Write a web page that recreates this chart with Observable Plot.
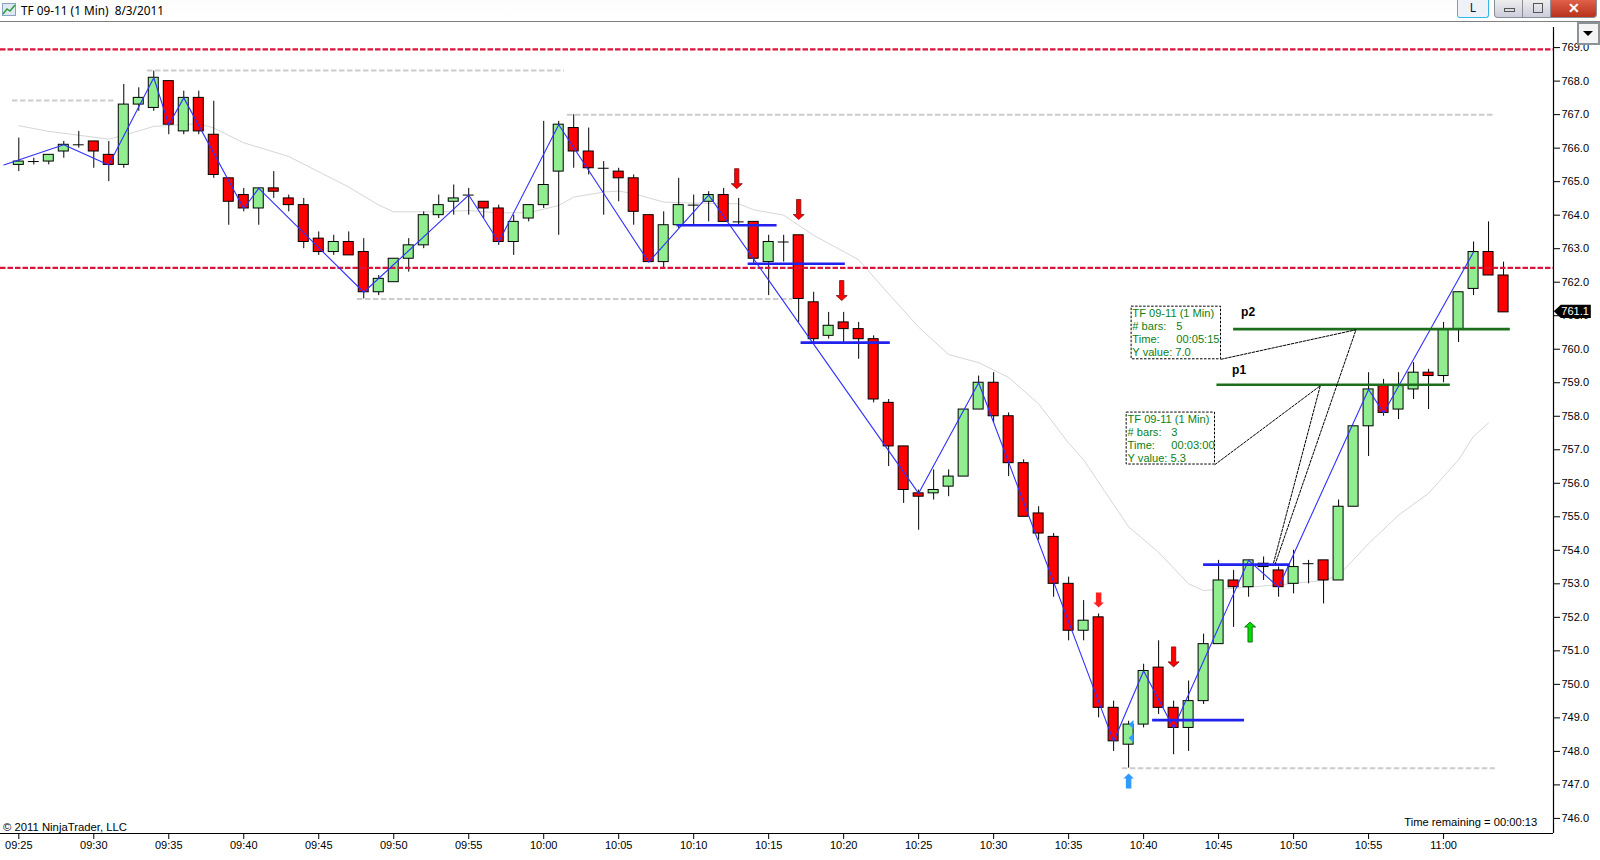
<!DOCTYPE html>
<html><head><meta charset="utf-8">
<script src="https://cdn.jsdelivr.net/npm/d3@7"></script>
<script src="https://cdn.jsdelivr.net/npm/@observablehq/plot@0.6"></script>
<style>
html,body{margin:0;padding:0;background:#fff;overflow:hidden}
#wrap{position:relative;width:1600px;height:860px;font-family:"Liberation Sans",Arial,sans-serif}
#wrap svg{display:block}
.hd{position:absolute;left:0;top:0;width:1600px;height:21px;background:linear-gradient(#fdfdfd,#fff);border-bottom:1px solid #808080;box-sizing:content-box}
.ttl{position:absolute;left:21px;top:2px;font:11.8px "Noto Sans",sans-serif;color:#000;white-space:pre;line-height:17px}
.btnL{position:absolute;left:1457px;top:0;width:32px;height:18px;background:#eef2f6;border:1px solid #35b8e8;border-top:none;box-sizing:border-box;text-align:center;font:12px "Noto Sans",sans-serif;color:#114;line-height:16px;border-radius:0 0 3px 3px}
.wbtn{position:absolute;top:0;height:18px;box-sizing:border-box;border:1px solid #8a8f96;border-top:none}
.drop{position:absolute;left:1577px;top:22px;width:23px;height:23px;background:#f4f4f4;border:2px solid #8b9298;box-sizing:border-box}
.drop:after{content:"";position:absolute;left:4px;top:7px;border-left:5px solid transparent;border-right:5px solid transparent;border-top:5px solid #000}
</style></head><body><div id="wrap"></div>
<script>
// Candles, one per minute starting at 09:25
const opens  = [765.5,765.6,765.6,765.9,766.1,766.2,765.8,765.5,767.3,767.2,768.0,766.5,767.5,766.4,765.1,764.6,764.2,764.8,764.5,764.3,763.3,762.9,763.2,762.9,761.7,762.0,762.7,763.1,764.0,764.4,764.6,764.4,764.2,763.2,763.9,764.3,765.3,766.6,765.9,765.4,765.3,765.1,764.0,762.6,763.7,764.3,764.4,764.6,763.8,763.8,762.6,763.2,763.4,761.4,760.4,760.8,760.6,760.3,758.4,757.1,755.7,755.7,755.9,756.2,758.2,759.0,758.0,756.6,755.1,754.4,753.0,751.6,752.0,749.3,748.2,748.8,750.5,749.3,748.7,749.5,751.2,753.1,752.9,753.6,753.4,753.0,753.6,753.7,753.1,755.3,757.7,758.9,758.2,758.8,759.3,759.2,760.6,761.8,762.9,762.2];
const closes = [765.6,765.6,765.8,766.1,766.1,765.9,765.5,767.3,767.5,768.1,766.7,767.5,766.5,765.2,764.4,764.2,764.8,764.7,764.3,763.2,762.9,763.2,762.8,761.7,762.1,762.7,763.1,764.0,764.3,764.5,764.6,764.2,763.2,763.8,764.3,764.9,766.7,765.9,765.4,765.4,765.1,764.1,762.6,763.7,764.3,764.3,764.6,763.8,763.8,762.7,763.2,763.2,761.5,760.3,760.7,760.6,760.3,758.5,757.1,755.8,755.6,755.8,756.2,758.2,759.0,758.0,756.6,755.0,754.5,753.0,751.6,751.9,749.3,748.3,748.8,750.4,749.3,748.7,749.5,751.2,753.1,752.9,753.7,753.5,752.9,753.5,753.6,753.1,755.3,757.7,758.8,758.1,758.9,759.3,759.2,760.6,761.7,762.9,762.2,761.1];
const highs  = [766.3,765.7,765.8,766.2,766.5,766.2,766.2,767.9,767.8,768.3,768.0,767.7,767.7,767.4,765.1,764.8,764.8,765.3,764.6,764.5,763.5,763.4,763.5,763.3,762.2,762.7,763.3,764.1,764.6,764.9,764.8,764.4,764.3,764.0,764.3,766.8,766.8,767.0,766.6,765.6,765.4,765.2,764.0,764.1,765.1,764.6,764.7,764.8,764.5,763.8,763.4,763.4,763.4,761.7,761.1,761.1,760.8,760.4,758.5,757.1,755.8,756.4,756.4,758.2,759.2,759.3,758.1,756.7,755.3,754.5,753.2,752.5,752.1,749.5,748.9,750.6,751.3,749.5,750.1,751.5,753.7,753.4,753.7,753.8,753.5,754.0,753.7,753.7,755.5,757.7,759.3,759.1,759.3,759.6,759.4,760.8,761.7,763.2,763.8,762.6];
const lows   = [765.3,765.5,765.5,765.7,766.0,765.4,765.0,765.4,767.1,767.1,766.4,766.4,766.4,765.1,763.7,764.1,763.7,764.5,764.1,763.0,762.8,762.8,762.8,761.5,761.6,762.0,762.3,763.0,763.9,764.0,764.0,763.9,763.1,762.8,763.8,764.2,763.4,765.4,765.2,764.0,764.4,763.7,762.6,762.4,763.6,763.7,763.8,763.8,763.7,762.5,761.6,762.6,760.8,760.2,760.3,760.2,759.7,758.4,756.5,755.4,754.6,755.5,755.6,756.2,758.2,757.8,756.2,755.0,754.3,752.6,751.3,751.3,749.0,748.0,747.5,748.7,749.1,747.9,748.0,749.4,751.2,751.7,752.6,753.1,752.6,752.7,753.0,752.4,753.1,755.3,756.8,758.0,757.9,758.5,758.2,759.0,760.2,761.6,762.2,761.1];

// Zigzag indicator (bar number, price)
const zigBars   = [-1,3,6,9,10,11,15,16,23,30,32,36,42,46,60,64,73,75,77,82,84,90,91,97];
const zigValues = [765.5,766.1,765.5,768.1,766.7,767.5,764.2,764.8,761.7,764.6,763.2,766.7,762.6,764.6,755.7,759.0,748.3,750.4,748.7,753.7,752.9,758.8,758.1,762.9];

// Moving average (bar number, price)
const smaBars   = [0,2,6,7,9,12,13,15,18,22,24,25,28,30,32,34,36,37,39,40,41,43,45,48,49,51,53,56,58,60,62,64,66,68,70,71,74,76,78,79,84,87,88,90,92,94,96,97,98];
const smaValues = [766.67,766.5,766.27,766.38,766.65,766.73,766.6,766.16,765.75,764.84,764.3,764.1,764.1,764.14,764.07,764.07,764.29,764.54,764.69,764.72,764.64,764.39,764.36,764.34,764.16,764.0,763.4,762.67,761.65,760.66,759.84,759.6,759.16,758.37,757.2,756.7,754.7,753.94,753.0,752.8,752.97,753.1,753.25,754.2,755.05,755.7,756.7,757.4,757.8];

// Horizontal drawings (start minute, end minute, price)
const redLevels   = [768.95,762.43];
const greyStart   = [-0.42,8.58,36.58,22.58,73.58];
const greyEnd     = [6.45,36.38,98.45,51.58,98.45];
const greyLevels  = [767.42,768.32,767.0,761.5,747.5];
const blueStart   = [43.89,48.63,52.16,75.6,79];
const blueEnd     = [50.56,55.11,58.11,81.73,84.78];
const blueLevels  = [763.7,762.55,760.2,748.93,753.57];
const greenStart  = [79.89,81];
const greenEnd    = [95.45,99.45];
const greenLevels = [758.94,760.6];

// Arrows (bar number, price)
const downBars  = [47.87,52,54.87,77];   const downValues  = [765.09,764.17,761.75,750.82];
const stubBars  = [72];                  const stubValues  = [752.52];
const upBars    = [82.1];                const upValues    = [751.56];
const blueBars  = [74];                  const blueValues  = [747.12];
const triBars   = [74.16,74.16];         const triValues   = [748.8,748.4];

// Callouts
const calloutLines = ["TF 09-11 (1 Min)","# bars:","Time:","Y value: 7.0","TF 09-11 (1 Min)","# bars:","Time:","Y value: 5.3"];
const calloutValueText = ["5","00:05:15","3","00:03:00"];

const xTickLabels = ["09:25","09:30","09:35","09:40","09:45","09:50","09:55","10:00","10:05","10:10","10:15","10:20","10:25","10:30","10:35","10:40","10:45","10:50","10:55","11:00"];
const yTickValues = d3.range(746,770);

const t = m => new Date(Date.UTC(2011,7,3,9,25) + m*60000);
const hw = 1/3;
const candles = opens.map((o,i)=>({i,o,c:closes[i],h:highs[i],l:lows[i]}));
const xTicks = xTickLabels.map(s=>{const [h,m]=s.split(":").map(Number);return new Date(Date.UTC(2011,7,3,h,m));});
const zig = zigBars.map((b,i)=>({x:t(b),y:zigValues[i]}));
const sma = smaBars.map((b,i)=>({x:t(b),y:smaValues[i]}));
const seg = (a,b,c)=>a.map((s,i)=>({x1:t(s),x2:t(b[i]),y:c[i]}));
const pts = (a,b)=>a.map((s,i)=>({x:t(s),y:b[i]}));

const arrow = (sw,hw2,hh,total)=>({draw(c){
  const top=-total/2, bot=total/2, nk=bot-hh;
  c.moveTo(-sw/2,top);c.lineTo(sw/2,top);c.lineTo(sw/2,nk);c.lineTo(hw2/2,nk);c.lineTo(0,bot);c.lineTo(-hw2/2,nk);c.lineTo(-sw/2,nk);c.closePath();
}});
const flipped = s=>({draw(c){
  const m={moveTo:(x,y)=>c.moveTo(x,-y),lineTo:(x,y)=>c.lineTo(x,-y),closePath:()=>c.closePath()};
  s.draw(m);
}});
const tri = {draw(c){c.moveTo(2.5,-4.5);c.lineTo(2.5,4.5);c.lineTo(-2.5,0);c.closePath();}};
const tag = {draw(c){c.moveTo(0,0);c.lineTo(7,-6.7);c.lineTo(37,-6.7);c.lineTo(37,6.7);c.lineTo(7,6.7);c.closePath();}};

const boxes = [{x1:74.2,x2:80.16,y1:759.70,y2:761.27},{x1:73.87,x2:79.76,y1:756.56,y2:758.11}].map(b=>({...b,x1:t(b.x1),x2:t(b.x2)}));
const lead1 = pts([80.16,89.16,83.78],[759.70,760.58,753.6]);
const lead2 = pts([79.76,86.78,83.65],[756.56,758.91,753.6]);
const calloutX = [74.25,74.25,74.25,74.25,73.93,73.93,73.93,73.93];
const calloutY = [761.07,760.68,760.29,759.90,757.9,757.52,757.13,756.74];
const calloutText = calloutLines.map((s,i)=>({s,x:t(calloutX[i]),y:calloutY[i]}));
const calloutVals = [{x:77.18,y:760.68},{x:77.18,y:760.29},{x:76.85,y:757.52},{x:76.85,y:757.13}].map((d,i)=>({s:calloutValueText[i],x:t(d.x),y:d.y}));

const font = "Liberation Sans, Arial, sans-serif";
const chart = Plot.plot({
  width:1600,height:860,marginLeft:0,marginRight:47,marginTop:27,marginBottom:27,
  style:{fontFamily:font,fontSize:"11px",background:"#fff",color:"#000"},
  x:{type:"utc",domain:[t(-1.22),t(102.33)],label:null},
  y:{domain:[745.55,769.6],label:null},
  marks:[
    Plot.line(sma,{x:"x",y:"y",stroke:"#d6d6d6",strokeWidth:1}),
    Plot.ruleY(seg(greyStart,greyEnd,greyLevels),{x1:"x1",x2:"x2",y:"y",stroke:"#cccccc",strokeWidth:2,strokeDasharray:"5.5,2.5"}),
    Plot.ruleX(candles,{x:d=>t(d.i),y1:"l",y2:"h",stroke:"#000",strokeWidth:1}),
    Plot.rect(candles.filter(d=>d.o!==d.c),{x1:d=>t(d.i-hw),x2:d=>t(d.i+hw),y1:"o",y2:"c",fill:d=>d.c>d.o?"#90ee90":"#ff0000",stroke:"#000",strokeWidth:1}),
    Plot.ruleY(candles.filter(d=>d.o===d.c),{x1:d=>t(d.i-hw-0.03),x2:d=>t(d.i+hw+0.03),y:"o",stroke:"#000",strokeWidth:1}),
    Plot.ruleY(redLevels,{stroke:"#dc143c",strokeWidth:2.3,strokeDasharray:"5.5,2"}),
    Plot.line(zig,{x:"x",y:"y",stroke:"#3030ff",strokeWidth:1.1}),
    Plot.ruleY(seg(blueStart,blueEnd,blueLevels),{x1:"x1",x2:"x2",y:"y",stroke:"#2222ee",strokeWidth:2.7}),
    Plot.ruleY(seg(greenStart,greenEnd,greenLevels),{x1:"x1",x2:"x2",y:"y",stroke:"#1c6e1c",strokeWidth:2.7}),
    Plot.line(lead1,{x:"x",y:"y",stroke:"#000",strokeWidth:1,strokeDasharray:"2.5,1.5"}),
    Plot.line(lead2,{x:"x",y:"y",stroke:"#000",strokeWidth:1,strokeDasharray:"2.5,1.5"}),
    Plot.rect(boxes,{x1:"x1",x2:"x2",y1:"y1",y2:"y2",fill:"#fff",stroke:"#000",strokeWidth:1,strokeDasharray:"2.5,1.5"}),
    Plot.text(calloutText,{x:"x",y:"y",text:"s",textAnchor:"start",fill:"#0b7f14",fontSize:11.1}),
    Plot.text(calloutVals,{x:"x",y:"y",text:"s",textAnchor:"start",fill:"#0b7f14",fontSize:11.1}),
    Plot.text(["p1"],{x:[t(80.9)],y:[759.37],text:d=>d,textAnchor:"start",fontWeight:"bold",fontSize:12,fill:"#000"}),
    Plot.text(["p2"],{x:[t(81.5)],y:[761.1],text:d=>d,textAnchor:"start",fontWeight:"bold",fontSize:12,fill:"#000"}),
    Plot.dot(pts(downBars,downValues),{x:"x",y:"y",symbol:arrow(4.3,11,5,20),r:3,fill:"#ff0000",stroke:"#7a1010",strokeWidth:0.8}),
    Plot.dot(pts(stubBars,stubValues),{x:"x",y:"y",symbol:arrow(5.5,10.5,5,15),r:3,fill:"#ff2020",stroke:"none"}),
    Plot.dot(pts(upBars,upValues),{x:"x",y:"y",symbol:flipped(arrow(4.3,11,5,20)),r:3,fill:"#00dd00",stroke:"#0a5a0a",strokeWidth:0.8}),
    Plot.dot(pts(blueBars,blueValues),{x:"x",y:"y",symbol:flipped(arrow(5.5,10.5,5,15)),r:3,fill:"#2f9bff",stroke:"none"}),
    Plot.dot(pts(triBars,triValues),{x:"x",y:"y",symbol:tri,r:3,fill:"#2f9bff",stroke:"none"}),
    Plot.ruleY([745.55],{stroke:"#000",strokeWidth:1.2}),
    Plot.ruleX([t(102.33)],{y1:745.55,y2:769.6,stroke:"#000",strokeWidth:1.2}),
    Plot.axisX({ticks:xTicks,tickFormat:d3.utcFormat("%H:%M"),tickSize:6,tickPadding:2,anchor:"bottom",label:null,stroke:"#000",fill:"#000",fontSize:11}),
    Plot.axisY({ticks:yTickValues,tickFormat:d3.format(".1f"),tickSize:6,tickPadding:2,anchor:"right",label:null,stroke:"#000",fill:"#000",fontSize:11}),
    Plot.text(["© 2011 NinjaTrader, LLC"],{x:[t(-1.05)],y:[745.74],text:d=>d,textAnchor:"start",fontSize:11.3,fill:"#000"}),
    Plot.text(["Time remaining = 00:00:13"],{x:[t(92.38)],y:[745.87],text:d=>d,textAnchor:"start",fontSize:11.2,fill:"#000"}),
    Plot.dot([{x:t(102.35),y:761.13}],{x:"x",y:"y",symbol:tag,r:3,fill:"#000",stroke:"none"}),
    Plot.text(["761.1"],{x:[t(102.85)],y:[761.13],text:d=>d,textAnchor:"start",fill:"#fff",fontSize:11})
  ]
});
const wrap = document.getElementById("wrap");
wrap.appendChild(chart);
wrap.insertAdjacentHTML("beforeend",`
<div class="hd"></div>
<svg style="position:absolute;left:2px;top:3px" width="14" height="13" viewBox="0 0 14 13"><rect x="0.5" y="0.5" width="13" height="12" fill="#dfe9f5" stroke="#8aa2c0"/><path d="M1 11 L5 6 L8 8 L13 2" fill="none" stroke="#2e9c3a" stroke-width="1.5"/></svg>
<div class="ttl">TF 09-11 (1 Min)  8/3/2011</div>
<div class="btnL">L</div>
<div class="wbtn" style="left:1494px;width:29px;background:linear-gradient(#eee,#ccd);border-radius:0 0 0 4px;"><span style="position:absolute;left:9px;top:8px;width:11px;height:4px;border:1px solid #555;box-sizing:border-box"></span></div>
<div class="wbtn" style="left:1522px;width:29px;background:linear-gradient(#eee,#ccd)"><span style="position:absolute;left:10px;top:3px;width:8px;height:8px;border:1px solid #555"></span></div>
<div class="wbtn" style="left:1550px;width:47px;background:linear-gradient(#e0604a,#b8321c);border-radius:0 0 4px 0;color:#fff;text-align:center;font:bold 14px 'Liberation Sans',sans-serif;line-height:16px">✕</div>
<div class="drop"></div>`);
</script></body></html>
